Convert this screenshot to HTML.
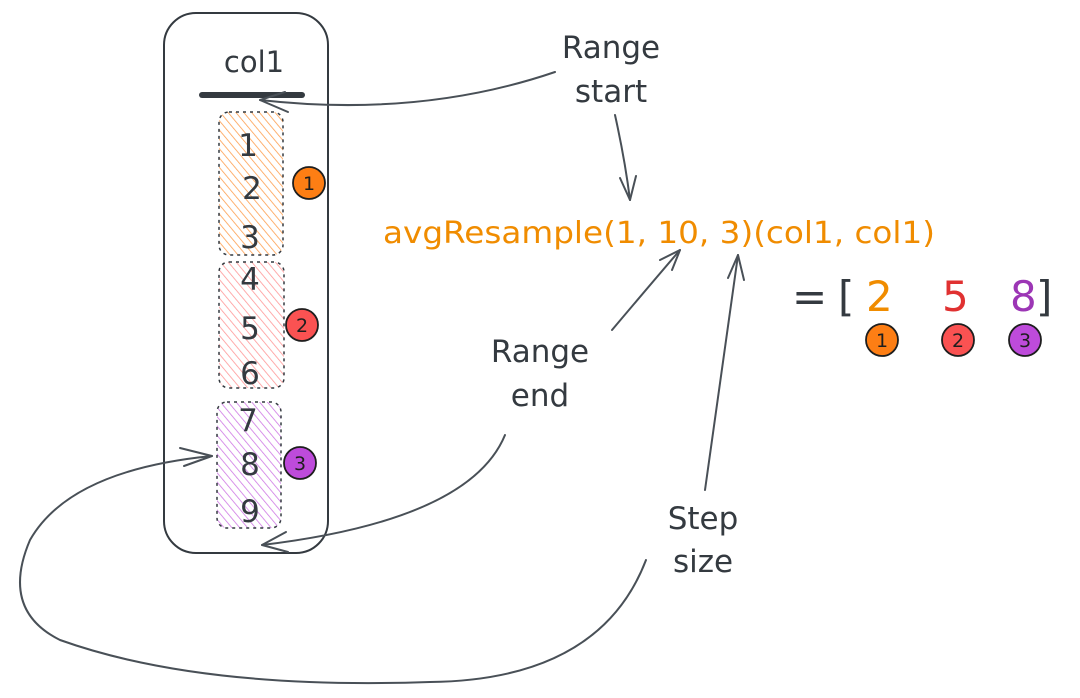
<!DOCTYPE html>
<html><head><meta charset="utf-8"><style>
html,body{margin:0;padding:0;background:#fff;}
svg{display:block;}
text{font-family:"DejaVu Sans","Liberation Sans",sans-serif;}
</style></head><body>
<svg width="1080" height="698" viewBox="0 0 1080 698" xmlns="http://www.w3.org/2000/svg">
<defs>
<pattern id="ho" width="6" height="6" patternUnits="userSpaceOnUse" patternTransform="rotate(-40)"><line x1="0" y1="0" x2="0" y2="6" stroke="#fd7e14" stroke-width="1.6"/></pattern>
<pattern id="hr" width="6" height="6" patternUnits="userSpaceOnUse" patternTransform="rotate(-40)"><line x1="0" y1="0" x2="0" y2="6" stroke="#ff6b6b" stroke-width="1.6"/></pattern>
<pattern id="hp" width="6" height="6" patternUnits="userSpaceOnUse" patternTransform="rotate(-40)"><line x1="0" y1="0" x2="0" y2="6" stroke="#be4bdb" stroke-width="1.6"/></pattern>
</defs>
<rect x="164" y="13" width="164" height="540" rx="32" fill="none" stroke="#343a40" stroke-width="2"/>
<line x1="202" y1="95" x2="302" y2="95" stroke="#343a40" stroke-width="6" stroke-linecap="round"/>
<text x="254" y="72" font-size="29" text-anchor="middle" fill="#343a40">col1</text>
<rect x="219" y="112" width="64" height="143" rx="10" fill="url(#ho)" fill-opacity="0.75" stroke="#343a40" stroke-width="1.5" stroke-dasharray="3 4"/>
<rect x="219" y="262" width="65" height="126" rx="10" fill="url(#hr)" fill-opacity="0.7" stroke="#343a40" stroke-width="1.5" stroke-dasharray="3 4"/>
<rect x="217" y="402" width="64" height="126" rx="10" fill="url(#hp)" fill-opacity="0.75" stroke="#343a40" stroke-width="1.5" stroke-dasharray="3 4"/>
<g font-size="31" fill="#343a40" text-anchor="middle">
<text x="248" y="156">1</text><text x="252" y="199">2</text><text x="250" y="248">3</text>
<text x="250" y="290">4</text><text x="250" y="339">5</text><text x="250" y="384">6</text>
<text x="248" y="431">7</text><text x="250" y="475">8</text><text x="250" y="522">9</text>
</g>
<g stroke="#1e1e1e" stroke-width="1.8">
<circle cx="309" cy="183" r="16" fill="#fd7e14"/>
<circle cx="302" cy="325" r="16" fill="#fa5252"/>
<circle cx="300" cy="463" r="16" fill="#be4bdb"/>
<circle cx="882" cy="340" r="16" fill="#fd7e14"/>
<circle cx="958" cy="340" r="16" fill="#fa5252"/>
<circle cx="1025" cy="340" r="16" fill="#be4bdb"/>
</g>
<g font-size="19" fill="#1e1e1e" text-anchor="middle">
<text x="309" y="190">1</text><text x="302" y="332">2</text><text x="300" y="470">3</text>
<text x="882" y="347">1</text><text x="958" y="347">2</text><text x="1025" y="347">3</text>
</g>
<g font-size="31" fill="#343a40" text-anchor="middle">
<text x="611" y="58">Range</text><text x="611" y="102">start</text>
<text x="540" y="362">Range</text><text x="540" y="406">end</text>
<text x="703" y="529">Step</text><text x="703" y="572">size</text>
</g>
<text x="383" y="243" font-size="30" fill="#f08c00" textLength="552" lengthAdjust="spacingAndGlyphs">avgResample(1, 10, 3)(col1, col1)</text>
<g font-size="42">
<text x="792" y="311" fill="#343a40">=</text>
<text x="838" y="311" fill="#343a40">[</text>
<text x="866" y="311" fill="#f08c00">2</text>
<text x="942" y="311" fill="#e03131">5</text>
<text x="1010" y="311" fill="#9c36b5">8</text>
<text x="1036" y="311" fill="#343a40">]</text>
</g>
<g fill="none" stroke="#495057" stroke-width="2" stroke-linecap="round">
<path d="M555 72 Q420 118 260 100"/><path d="M260 100 L285 92 M260 100 L288 112"/>
<path d="M615 115 Q625 160 630 200"/><path d="M630 200 L620 178 M630 200 L636 176"/>
<path d="M612 330 Q650 285 680 250"/><path d="M680 250 L660 260 M680 250 L672 270"/>
<path d="M505 435 Q470 520 262 545"/><path d="M262 545 L286 532 M262 545 L288 552"/>
<path d="M705 490 Q720 380 738 255"/><path d="M738 255 L728 278 M738 255 L744 280"/>
<path d="M646 560 Q600 680 430 682 Q200 690 60 640 Q0 610 30 540 Q70 470 212 456"/><path d="M212 456 L180 448 M212 456 L184 466"/>
</g>
</svg>
</body></html>
